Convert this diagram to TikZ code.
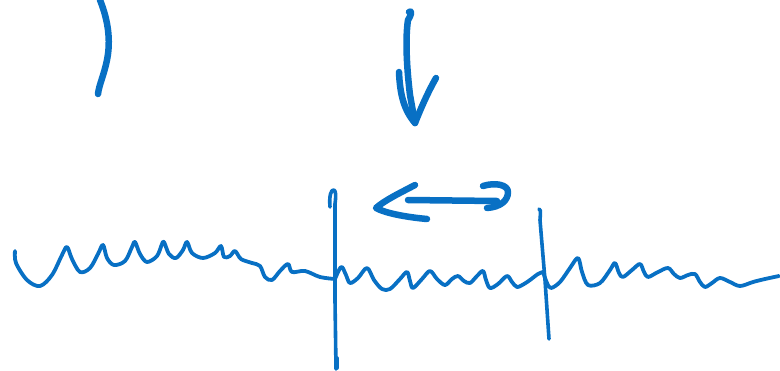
\documentclass[tikz,border=0pt]{standalone}
\definecolor{ink}{RGB}{8,112,196}
\tikzset{
  wave/.style={draw=ink, line width=3.8pt, line cap=round, line join=round},
  thick ink/.style={draw=ink, line width=6.5pt, line cap=round, line join=round},
  post/.style={draw=ink, line width=3.6pt, line cap=round, line join=round}
}
\begin{document}
\begin{tikzpicture}[x=1pt,y=-1pt]
\useasboundingbox (0,0) rectangle (780,370);
% left wave
\draw[wave] plot[smooth, tension=0.55] coordinates {
 (15,251) (16,263) (27,280) (40,286) (52,275) (62,255) (67,247) (72,259) (80,272)
 (90,268) (98,254) (103,245) (107,258) (114,265) (125,261) (132,247) (135,242)
 (140,254) (147,262) (157,256) (162,244) (164,242) (169,254) (176,258) (183,250)
 (187,242) (192,253) (203,258) (215,253) (221,246) (224,257) (230,256) (235,251)
 (241,259) (252,263) (260,266) (265,277) (272,280) (280,271) (288,264) (292,272)
 (305,271) (320,277) (335,279)};
% middle wave
\draw[wave] plot[smooth, tension=0.55] coordinates {
 (335,279) (339,270) (342,267) (346,275) (350,283) (358,278) (367,268) (374,280)
 (382,289) (390,289) (400,279) (407,272) (410,281) (413,288) (422,279) (430,271)
 (437,279) (445,285) (452,279) (458,276) (464,281) (470,283) (477,276) (483,271)
 (486,280) (490,288) (498,284) (507,276) (512,282) (517,287) (524,284) (530,280)
 (538,274) (543,272)};
% right wave
\draw[wave] plot[smooth, tension=0.55] coordinates {
 (543,272) (547,283) (551,288) (560,282) (570,268) (578,258) (582,272) (588,285)
 (600,283) (610,270) (615,263) (619,273) (623,277) (632,270) (640,264) (644,272)
 (648,277) (658,272) (668,268) (674,274) (680,278) (688,275) (695,274) (700,282)
 (705,287) (712,283) (720,278) (730,282) (740,286) (753,282) (765,279) (779,276)};
% left post
\draw[post] (330,207) .. controls (329,196) and (331,189) .. (334,190)
  .. controls (336,191) and (336,196) .. (335,204) -- (335,300) -- (336,369);
\draw[post] (337,358) -- (337,368);
% right post
\draw[post] (539,209) .. controls (540,210) and (541,208) .. (540,220)
  -- (545,280) -- (549,339);
% top left stroke
\draw[thick ink] (100,0) .. controls (108,20) and (111,40) .. (107,60)
  .. controls (104,75) and (99,85) .. (98,94);
% down arrow
\draw[thick ink] (409,12) .. controls (412,10) and (412,14) .. (408,20)
  .. controls (405,40) and (407,70) .. (410,95) -- (415,123);
\draw[thick ink] (399,72) .. controls (400,95) and (404,110) .. (415,123);
\draw[thick ink] (436,78) .. controls (428,92) and (421,108) .. (415,123);
% double arrow
\draw[thick ink] (415,185) .. controls (400,193) and (385,200) .. (376,208)
  .. controls (385,213) and (405,217) .. (427,219);
\draw[thick ink] (408,200) -- (497,201);
\draw[thick ink] (483,186) .. controls (496,182) and (508,185) .. (508,192)
  .. controls (508,201) and (500,207) .. (487,208);
\end{tikzpicture}
\end{document}
